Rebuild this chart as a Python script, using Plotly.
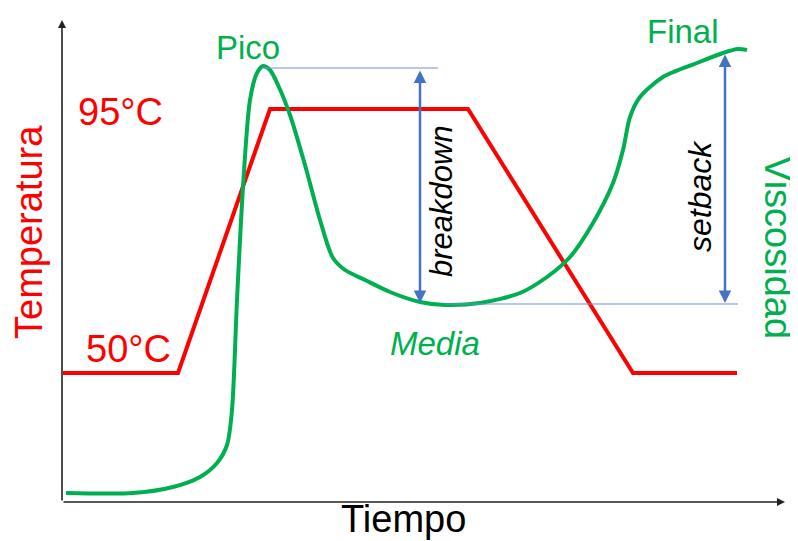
import plotly.graph_objects as go

# Schematic data (time units ~ chart width, values in screen-like units; y axis reversed)
temp_t = [63, 178, 270, 468, 633, 737]
temp_v = [373, 373, 109, 109, 373, 373]

visc_t = [66, 133, 173, 200, 217, 227, 232, 237, 243, 250, 257, 263, 270, 278, 290, 305, 320, 333, 345,
          365, 390, 420, 445, 480, 520, 547, 570, 593, 613, 623, 630, 640, 663, 697, 723, 738, 747]
visc_v = [493, 493, 487, 477, 463, 445, 410, 300, 187, 100, 73, 66, 70, 85, 115, 165, 220, 258, 270,
          280, 292, 302, 305, 303, 293, 277, 257, 223, 183, 150, 117, 97, 77, 63, 53, 49, 50]

peak_t, peak_v = 262, 68
trough_t, trough_v = 420, 304
final_t, final_v = 725, 52

RED = "#ff0000"
GREEN = "#00b050"
BLUE = "#4472c4"
FONT = "Liberation Sans"

fig = go.Figure()
fig.add_trace(go.Scatter(x=temp_t, y=temp_v, mode="lines", line=dict(color=RED, width=4), hoverinfo="skip"))
fig.add_trace(go.Scatter(x=visc_t, y=visc_v, mode="lines", line=dict(color=GREEN, width=4, shape="spline", smoothing=0.8), hoverinfo="skip"))

# thin reference lines
fig.add_shape(type="line", x0=peak_t, x1=438, y0=peak_v, y1=peak_v, line=dict(color="#6f8fd6", width=1))
fig.add_shape(type="line", x0=445, x1=738, y0=trough_v, y1=trough_v, line=dict(color="#6f8fd6", width=1))

ann = []
# axes with arrows
ann.append(dict(x=62, y=20, ax=62, ay=502, xref="x", yref="y", axref="x", ayref="y", text="",
                showarrow=True, arrowhead=2, arrowsize=1, arrowwidth=1.6, arrowcolor="#222", standoff=0))
ann.append(dict(x=785, y=502, ax=62, ay=502, xref="x", yref="y", axref="x", ayref="y", text="",
                showarrow=True, arrowhead=2, arrowsize=1, arrowwidth=1.6, arrowcolor="#222", standoff=0))
# double arrows
ann.append(dict(x=trough_t, y=trough_v - 1, ax=trough_t, ay=peak_v + 1, xref="x", yref="y", axref="x", ayref="y", text="",
                showarrow=True, arrowhead=2, startarrowhead=2, arrowside="end+start", arrowsize=1, startarrowsize=1,
                arrowwidth=2.5, arrowcolor=BLUE, standoff=0, startstandoff=0))
ann.append(dict(x=final_t, y=trough_v - 1, ax=final_t, ay=final_v + 1, xref="x", yref="y", axref="x", ayref="y", text="",
                showarrow=True, arrowhead=2, startarrowhead=2, arrowside="end+start", arrowsize=1, startarrowsize=1,
                arrowwidth=2.5, arrowcolor=BLUE, standoff=0, startstandoff=0))

def txt(x, y, s, color, size, angle=0, italic=False):
    if italic:
        s = "<i>" + s + "</i>"
    ann.append(dict(x=x, y=y, xref="x", yref="y", text=s, showarrow=False, textangle=angle,
                    font=dict(family=FONT, size=size, color=color), xanchor="center", yanchor="middle"))

txt(248, 47, "Pico", GREEN, 33)
txt(683, 31, "Final", GREEN, 33)
txt(435, 343, "Media", GREEN, 33, italic=True)
txt(120, 112, "95°C", RED, 38)
txt(128, 349, "50°C", RED, 38)
txt(29, 232, "Temperatura", RED, 38, angle=-90)
txt(778, 247, "Viscosidad", GREEN, 38, angle=90)
txt(403, 519, "Tiempo", "#000", 38)
txt(441, 201, "breakdown", "#000", 31, angle=-90, italic=True)
txt(700, 196, "setback", "#000", 32, angle=-90, italic=True)

# the page adds an 8 px body margin; shift the ranges so marks land where they should
fig.update_layout(
    width=798, height=541, margin=dict(l=0, r=0, t=0, b=0),
    paper_bgcolor="white", plot_bgcolor="white", showlegend=False,
    xaxis=dict(range=[8, 806], visible=False, fixedrange=True),
    yaxis=dict(range=[549, 8], visible=False, fixedrange=True),
    annotations=ann,
)
fig.write_html("out.html")
